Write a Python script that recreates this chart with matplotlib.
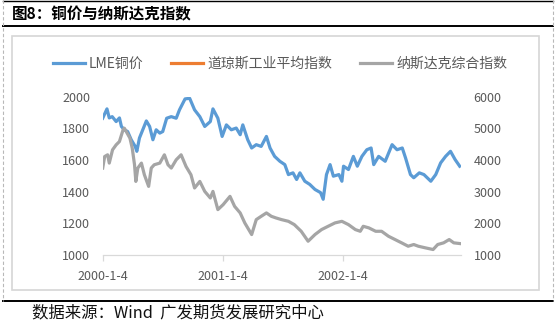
import matplotlib as mpl
mpl.use('Agg')
import matplotlib.pyplot as plt
from matplotlib.lines import Line2D
from matplotlib.patches import Rectangle
import pandas as pd

plt.rcParams['font.family'] = ['Noto Sans CJK SC', 'DejaVu Sans']

# LME copper (left axis)
cu_dates = ['2000-01-04', '2000-01-17', '2000-01-24', '2000-02-02', '2000-02-14', '2000-02-24',
            '2000-03-01', '2000-03-10', '2000-03-20', '2000-03-31', '2000-04-12', '2000-04-17',
            '2000-04-25', '2000-05-16', '2000-05-26', '2000-06-05', '2000-06-15', '2000-06-26',
            '2000-07-05', '2000-07-17', '2000-07-31', '2000-08-15', '2000-08-25', '2000-09-11',
            '2000-09-25', '2000-10-10', '2000-10-26', '2000-11-10', '2000-11-27', '2000-12-05',
            '2000-12-20', '2001-01-02', '2001-01-15', '2001-01-30', '2001-02-14', '2001-02-26',
            '2001-03-06', '2001-03-21', '2001-04-02', '2001-04-16', '2001-05-01', '2001-05-17',
            '2001-05-28', '2001-06-11', '2001-06-27', '2001-07-12', '2001-07-23', '2001-08-06',
            '2001-08-17', '2001-08-27', '2001-09-11', '2001-09-26', '2001-10-12', '2001-10-29',
            '2001-11-06', '2001-11-16', '2001-11-27', '2001-12-07', '2001-12-24', '2002-01-02',
            '2002-01-07', '2002-01-22', '2002-02-06', '2002-02-18', '2002-03-04', '2002-03-19',
            '2002-04-01', '2002-04-09', '2002-04-24', '2002-05-14', '2002-06-04', '2002-06-19',
            '2002-07-05', '2002-07-15', '2002-07-30', '2002-08-09', '2002-08-26', '2002-09-09',
            '2002-09-30', '2002-10-15', '2002-10-30', '2002-11-14', '2002-11-29', '2002-12-13',
            '2002-12-27']
cu_values = [1864, 1923, 1866, 1874, 1843, 1866, 1812, 1791, 1780, 1728, 1686, 1655,
             1739, 1847, 1812, 1728, 1791, 1770, 1780, 1864, 1874, 1864, 1917, 1986,
             1990, 1917, 1874, 1812, 1843, 1923, 1864, 1749, 1822, 1791, 1802, 1760,
             1822, 1728, 1676, 1697, 1686, 1749, 1676, 1623, 1592, 1571, 1508, 1519,
             1477, 1519, 1466, 1446, 1414, 1394, 1352, 1508, 1571, 1498, 1508, 1466,
             1561, 1540, 1623, 1561, 1623, 1665, 1676, 1571, 1623, 1592, 1697, 1665,
             1676, 1613, 1508, 1488, 1519, 1508, 1466, 1508, 1582, 1623, 1655, 1603,
             1561]

# Nasdaq composite (right axis)
nq_dates = ['2000-01-04', '2000-01-10', '2000-01-19', '2000-01-24', '2000-02-03', '2000-02-14',
            '2000-02-24', '2000-03-06', '2000-03-10', '2000-03-27', '2000-04-03', '2000-04-10',
            '2000-04-14', '2000-04-20', '2000-05-01', '2000-05-10', '2000-05-23', '2000-05-31',
            '2000-06-09', '2000-06-26', '2000-07-10', '2000-07-21', '2000-07-31', '2000-08-15',
            '2000-08-30', '2000-09-14', '2000-09-29', '2000-10-10', '2000-10-26', '2000-11-10',
            '2000-11-27', '2000-12-05', '2000-12-20', '2001-01-05', '2001-01-26', '2001-02-09',
            '2001-02-26', '2001-03-12', '2001-04-02', '2001-04-16', '2001-05-01', '2001-05-17',
            '2001-06-01', '2001-06-15', '2001-07-02', '2001-07-23', '2001-08-10', '2001-08-31',
            '2001-09-21', '2001-10-12', '2001-11-01', '2001-11-21', '2001-12-12', '2002-01-02',
            '2002-01-22', '2002-02-12', '2002-02-27', '2002-03-08', '2002-03-25', '2002-04-15',
            '2002-05-03', '2002-05-24', '2002-06-13', '2002-07-03', '2002-07-23', '2002-08-09',
            '2002-08-23', '2002-09-13', '2002-10-07', '2002-10-21', '2002-11-08', '2002-11-25',
            '2002-12-09', '2002-12-27']
nq_values = [3746, 4111, 4165, 3903, 4322, 4480, 4584, 4952, 5005, 4691, 4376, 3850,
             3324, 3746, 3903, 3535, 3167, 3746, 3850, 3903, 4165, 3850, 3746, 4007,
             4165, 3796, 3535, 3116, 3324, 3009, 2801, 3009, 2433, 2590, 2852, 2537,
             2329, 2014, 1646, 2118, 2222, 2329, 2222, 2171, 2118, 2064, 1960, 1749,
             1435, 1646, 1803, 1907, 2014, 2064, 1960, 1803, 1749, 1907, 1857, 1749,
             1749, 1592, 1488, 1384, 1277, 1331, 1277, 1227, 1173, 1331, 1384, 1488,
             1384, 1362]

legend_labels = ['LME铜价', '道琼斯工业平均指数', '纳斯达克综合指数']
x_ticks = ['2000-01-04', '2001-01-04', '2002-01-04']
x_tick_labels = ['2000-1-4', '2001-1-4', '2002-1-4']

W, H = 556, 323
fig = plt.figure(figsize=(W / 100, H / 100), dpi=100)


def fx(x):
    return x / W


def fy(y):
    return 1 - y / H


# page decorations
for yy, lw in [(0.5, 1.0), (26, 1.4), (301, 1.4)]:
    fig.add_artist(Line2D([fx(3), fx(553)], [fy(yy), fy(yy)], color='black', lw=lw))
for xx in [3.3, 553.3]:
    fig.add_artist(Line2D([fx(xx), fx(xx)], [fy(0), fy(301)], color='#b8b8b8', lw=0.8,
                          linestyle=(0, (3, 2))))
fig.add_artist(Rectangle((fx(12), fy(290)), fx(539) - fx(12), fy(36) - fy(290),
                         fill=False, edgecolor='#d6d6d6', lw=1.2))

fig.text(fx(12), fy(14), '图8：铜价与纳斯达克指数', fontsize=11.2, fontweight='bold',
         ha='left', va='center', color='black')
fig.text(fx(32), fy(313), '数据来源：Wind  广发期货发展研究中心', fontsize=11.8,
         ha='left', va='center', color='#111111')

ax = fig.add_axes([fx(102.7), fy(255), fx(461) - fx(102.7), fy(96.7) - fy(255)])
ax2 = ax.twinx()

cu_x = pd.to_datetime(cu_dates)
nq_x = pd.to_datetime(nq_dates)
l1, = ax.plot(cu_x, cu_values, color='#5B9BD5', lw=2.3, solid_joinstyle='round')
l2, = ax.plot([], [], color='#ED7D31', lw=2.3)
l3, = ax2.plot(nq_x, nq_values, color='#A5A5A5', lw=2.3, solid_joinstyle='round')

ax.set_xlim(pd.Timestamp('2000-01-04'), pd.Timestamp('2002-12-31'))
ax.set_ylim(1000, 2000)
ax2.set_ylim(1000, 6000)
ax.set_yticks(range(1000, 2001, 200))
ax2.set_yticks(range(1000, 6001, 1000))
ax.set_xticks(pd.to_datetime(x_ticks))
ax.set_xticklabels(x_tick_labels)

for a in (ax, ax2):
    for s in a.spines.values():
        s.set_visible(False)
    a.patch.set_visible(False)
ax.spines['bottom'].set_visible(True)
ax.spines['bottom'].set_color('#d9d9d9')
ax.spines['bottom'].set_linewidth(0.9)
ax.tick_params(axis='x', length=4, width=0.9, color='#d9d9d9', labelcolor='#595959',
               labelsize=9, pad=7)
ax.tick_params(axis='y', length=0, labelcolor='#595959', labelsize=9, pad=9)
ax2.tick_params(axis='y', length=0, labelcolor='#595959', labelsize=9, pad=9)

fig.legend([l1, l2, l3], legend_labels, loc='center', bbox_to_anchor=(fx(280), fy(64)),
           ncol=3, frameon=False, fontsize=10, handlelength=2.3, handletextpad=0.3,
           columnspacing=2.0, labelcolor='#595959')

fig.savefig('out.png', dpi=100)
